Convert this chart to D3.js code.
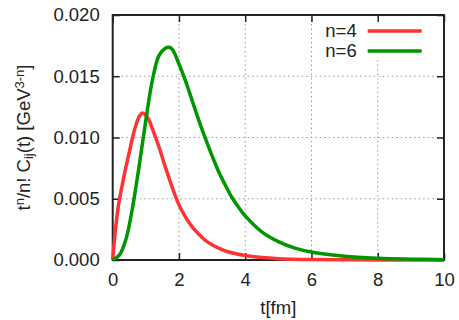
<!DOCTYPE html>
<html>
<head>
<meta charset="utf-8">
<script src="https://cdn.jsdelivr.net/npm/d3@7/dist/d3.min.js"></script>
<style>
  body { margin: 0; background: #fff; }
  svg text { font-family: 'Liberation Sans', Arial, sans-serif; fill: #222; }
  .grid line { stroke: #999; stroke-width: 1; stroke-dasharray: 1.5,3; }
  .curve { fill: none; stroke-width: 3.5; stroke-linejoin: round; }
</style>
</head>
<body>
<div id="chart"></div>
<script>
// values
const tN4 = [0, 0.05, 0.1, 0.15, 0.2, 0.25, 0.3, 0.4, 0.5, 0.6, 0.7, 0.8, 0.9, 1.0, 1.1, 1.2, 1.4, 1.6, 1.8, 2.0, 2.2, 2.4, 2.6, 2.8, 3.0, 3.25, 3.5, 4.0, 4.5, 5.0, 6.0, 7.0, 8.0, 10.0];
const cN4 = [0, 0.0016, 0.0029, 0.0040, 0.0049, 0.0056, 0.0063, 0.0076, 0.0088, 0.0100, 0.0110, 0.0117, 0.0120, 0.0118, 0.0114, 0.0107, 0.0092, 0.0075, 0.0059, 0.0045, 0.0035, 0.0027, 0.0021, 0.0016, 0.00125, 0.0009, 0.00065, 0.00036, 0.0002, 0.00011, 0.00004, 0.000015, 0.000005, 0];

const tN6 = [0, 0.2, 0.4, 0.6, 0.8, 1.0, 1.2, 1.4, 1.6, 1.7, 1.8, 2.0, 2.2, 2.4, 2.6, 2.8, 3.0, 3.2, 3.4, 3.6, 3.8, 4.0, 4.5, 5.0, 5.5, 6.0, 7.0, 8.0, 9.0, 10.0];
const cN6 = [0, 0.0004, 0.0017, 0.0043, 0.0077, 0.0114, 0.0147, 0.0167, 0.0173, 0.01736, 0.0172, 0.0160, 0.0146, 0.0130, 0.0114, 0.0099, 0.0085, 0.0072, 0.0061, 0.0051, 0.0043, 0.0036, 0.0023, 0.0015, 0.00097, 0.00065, 0.0003, 0.00014, 0.00007, 0.00003];

const seriesNames = ['n=4', 'n=6'];
const seriesColors = ['#ff3333', '#009600'];

const xTicks = [0, 2, 4, 6, 8, 10];
const yTicks = [0, 0.005, 0.010, 0.015, 0.020];

const W = 459, H = 320;
const margin = { top: 15, right: 15, bottom: 60, left: 112.7 };
const width = W - margin.left - margin.right;
const height = H - margin.top - margin.bottom;
const fontSize = '18.5px';
const smallSize = '13px';

const svg = d3.select('#chart').append('svg')
  .attr('width', W)
  .attr('height', H);

const g = svg.append('g')
  .attr('transform', `translate(${margin.left},${margin.top})`);

const x = d3.scaleLinear().domain([0, 10]).range([0, width]);
const y = d3.scaleLinear().domain([0, 0.02]).range([height, 0]);

// grid
g.append('g').attr('class', 'grid')
  .selectAll('line')
  .data(xTicks.slice(1, -1))
  .join('line')
  .attr('x1', d => x(d)).attr('x2', d => x(d))
  .attr('y1', 0).attr('y2', height);

g.append('g').attr('class', 'grid')
  .selectAll('line')
  .data(yTicks.slice(1, -1))
  .join('line')
  .attr('x1', 0).attr('x2', width)
  .attr('y1', d => y(d)).attr('y2', d => y(d));

// legend background hides the grid
g.append('rect')
  .attr('x', 203).attr('y', 1)
  .attr('width', width - 204).attr('height', 43)
  .attr('fill', '#fff');

// axes (ticks inward, mirrored)
const tickLen = 7;
const axisBottom = g.append('g')
  .attr('transform', `translate(0,${height})`)
  .call(d3.axisBottom(x).tickValues(xTicks).tickSize(-tickLen).tickPadding(13).tickFormat(d3.format('d')));
const axisTop = g.append('g')
  .call(d3.axisTop(x).tickValues(xTicks).tickSize(-tickLen).tickFormat(''));
const axisLeft = g.append('g')
  .call(d3.axisLeft(y).tickValues(yTicks).tickSize(-tickLen).tickPadding(13).tickFormat(d3.format('.3f')));
const axisRight = g.append('g')
  .attr('transform', `translate(${width},0)`)
  .call(d3.axisRight(y).tickValues(yTicks).tickSize(-tickLen).tickFormat(''));

[axisBottom, axisTop, axisLeft, axisRight].forEach(a => {
  a.select('.domain').remove();
  a.selectAll('line').attr('stroke', '#222').attr('stroke-width', 1.5);
  a.selectAll('text').style('font-size', fontSize).attr('fill', '#222');
});

g.append('rect')
  .attr('width', width).attr('height', height)
  .attr('fill', 'none')
  .attr('stroke', '#222')
  .attr('stroke-width', 2);

// curves
const line = d3.line()
  .x(d => x(d[0]))
  .y(d => y(d[1]))
  .curve(d3.curveCatmullRom.alpha(0.5));

const series = [d3.zip(tN4, cN4), d3.zip(tN6, cN6)];

g.selectAll('path.curve')
  .data(series)
  .join('path')
  .attr('class', 'curve')
  .attr('stroke', (d, i) => seriesColors[i])
  .attr('d', line);

// legend
const legend = g.append('g');
seriesNames.forEach((name, i) => {
  const ly = 16 + i * 20;
  legend.append('text')
    .attr('x', 244).attr('y', ly)
    .attr('dy', '0.35em')
    .attr('text-anchor', 'end')
    .style('font-size', fontSize)
    .text(name);
  legend.append('line')
    .attr('x1', 255).attr('x2', 309)
    .attr('y1', ly).attr('y2', ly)
    .attr('stroke', seriesColors[i])
    .attr('stroke-width', 3.5);
});

// axis titles
svg.append('text')
  .attr('x', margin.left + width / 2)
  .attr('y', 314)
  .attr('text-anchor', 'middle')
  .style('font-size', fontSize)
  .text('t[fm]');

const yl = svg.append('text')
  .attr('transform', `translate(30,${margin.top + height / 2}) rotate(-90)`)
  .attr('text-anchor', 'middle')
  .style('font-size', fontSize);
yl.append('tspan').text('t');
yl.append('tspan').attr('baseline-shift', '45%').style('font-size', smallSize).text('n');
yl.append('tspan').text('/n! C');
yl.append('tspan').attr('baseline-shift', '-25%').style('font-size', smallSize).text('ij');
yl.append('tspan').text('(t) [GeV');
yl.append('tspan').attr('baseline-shift', '45%').style('font-size', smallSize).text('3-n');
yl.append('tspan').text(']');
</script>
</body>
</html>
